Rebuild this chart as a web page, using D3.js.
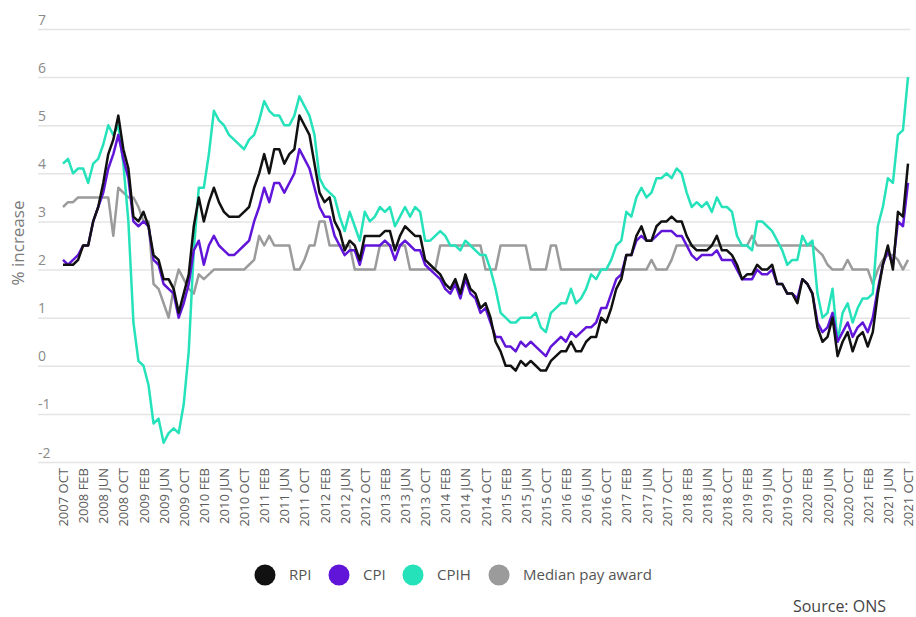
<!DOCTYPE html>
<html>
<head>
<meta charset="utf-8">
<script src="https://cdn.jsdelivr.net/npm/d3@7/dist/d3.min.js"></script>
<style>
  html, body { margin: 0; padding: 0; background: #fff; }
  svg { display: block; font-family: "Open Sans", "Noto Sans", sans-serif; }
</style>
</head>
<body>
<svg id="chart" width="916" height="617"></svg>
<script>
// ---------------- DATA ----------------
const seriesNames = ["RPI", "CPI", "CPIH", "Median pay award"];
const seriesColors = ["#111111", "#6015d9", "#25e2ba", "#9b9b9b"];

const xTickLabels = [
  "2007 OCT","2008 FEB","2008 JUN","2008 OCT","2009 FEB","2009 JUN","2009 OCT",
  "2010 FEB","2010 JUN","2010 OCT","2011 FEB","2011 JUN","2011 OCT",
  "2012 FEB","2012 JUN","2012 OCT","2013 FEB","2013 JUN","2013 OCT",
  "2014 FEB","2014 JUN","2014 OCT","2015 FEB","2015 JUN","2015 OCT",
  "2016 FEB","2016 JUN","2016 OCT","2017 FEB","2017 JUN","2017 OCT",
  "2018 FEB","2018 JUN","2018 OCT","2019 FEB","2019 JUN","2019 OCT",
  "2020 FEB","2020 JUN","2020 OCT","2021 FEB","2021 JUN","2021 OCT"
];
const yTicks = [-2, -1, 0, 1, 2, 3, 4, 5, 6, 7];

// monthly values, Oct 2007 .. Oct 2021
const rpi = [
  2.1, 2.1, 2.1,
  2.2, 2.5, 2.5, 3.0, 3.3, 3.8, 4.4, 4.7, 5.2, 4.5, 4.1, 3.1,
  3.0, 3.2, 2.9, 2.3, 2.2, 1.8, 1.8, 1.6, 1.1, 1.5, 1.9, 2.9,
  3.5, 3.0, 3.4, 3.7, 3.4, 3.2, 3.1, 3.1, 3.1, 3.2, 3.3, 3.7,
  4.0, 4.4, 4.0, 4.5, 4.5, 4.2, 4.4, 4.5, 5.2, 5.0, 4.8, 4.2,
  3.6, 3.4, 3.5, 3.0, 2.8, 2.4, 2.6, 2.5, 2.2, 2.7, 2.7, 2.7,
  2.7, 2.8, 2.8, 2.4, 2.7, 2.9, 2.8, 2.7, 2.7, 2.2, 2.1, 2.0,
  1.9, 1.7, 1.6, 1.8, 1.5, 1.9, 1.6, 1.5, 1.2, 1.3, 1.0, 0.5,
  0.3, 0.0, 0.0, -0.1, 0.1, 0.0, 0.1, 0.0, -0.1, -0.1, 0.1, 0.2,
  0.3, 0.3, 0.5, 0.3, 0.3, 0.5, 0.6, 0.6, 1.0, 0.9, 1.2, 1.6,
  1.8, 2.3, 2.3, 2.7, 2.9, 2.6, 2.6, 2.9, 3.0, 3.0, 3.1, 3.0,
  3.0, 2.7, 2.5, 2.4, 2.4, 2.4, 2.5, 2.7, 2.4, 2.4, 2.3, 2.1,
  1.8, 1.9, 1.9, 2.1, 2.0, 2.0, 2.1, 1.7, 1.7, 1.5, 1.5, 1.3,
  1.8, 1.7, 1.5, 0.8, 0.5, 0.6, 1.0, 0.2, 0.5, 0.7, 0.3, 0.6,
  0.7, 0.4, 0.7, 1.5, 2.1, 2.5, 2.0, 3.2, 3.1, 4.2
];
const cpi = [
  2.2, 2.1, 2.2,
  2.3, 2.5, 2.5, 3.0, 3.3, 3.6, 4.1, 4.4, 4.8, 4.3, 3.9, 3.0,
  2.9, 3.0, 2.9, 2.2, 2.1, 1.7, 1.6, 1.5, 1.0, 1.3, 1.7, 2.4,
  2.6, 2.1, 2.5, 2.7, 2.5, 2.4, 2.3, 2.3, 2.4, 2.5, 2.6, 3.0,
  3.3, 3.7, 3.4, 3.8, 3.8, 3.6, 3.8, 4.0, 4.5, 4.3, 4.1, 3.7,
  3.3, 3.1, 3.1, 2.7, 2.5, 2.3, 2.4, 2.4, 2.1, 2.5, 2.5, 2.5,
  2.5, 2.6, 2.5, 2.2, 2.5, 2.6, 2.5, 2.4, 2.4, 2.1, 2.0, 1.9,
  1.8, 1.6, 1.5, 1.7, 1.4, 1.8, 1.5, 1.4, 1.1, 1.2, 0.9, 0.6,
  0.6, 0.4, 0.4, 0.3, 0.5, 0.4, 0.5, 0.4, 0.3, 0.2, 0.4, 0.5,
  0.6, 0.5, 0.7, 0.6, 0.7, 0.8, 0.8, 0.9, 1.2, 1.2, 1.5, 1.8,
  1.9, 2.3, 2.3, 2.6, 2.7, 2.6, 2.6, 2.7, 2.8, 2.8, 2.8, 2.7,
  2.7, 2.5, 2.3, 2.2, 2.3, 2.3, 2.3, 2.4, 2.2, 2.2, 2.2, 2.0,
  1.8, 1.8, 1.8, 2.0, 1.9, 1.9, 2.0, 1.7, 1.7, 1.5, 1.5, 1.4,
  1.8, 1.7, 1.5, 0.9, 0.7, 0.8, 1.1, 0.5, 0.7, 0.9, 0.6, 0.8,
  0.9, 0.7, 1.0, 1.6, 2.1, 2.4, 2.1, 3.0, 2.9, 3.8
];
const cpih = [
  4.2, 4.3, 4.0,
  4.1, 4.1, 3.8, 4.2, 4.3, 4.6, 5.0, 4.8, 5.0, 4.2, 3.0, 0.9,
  0.1, 0.0, -0.4, -1.2, -1.1, -1.6, -1.4, -1.3, -1.4, -0.8, 0.3, 2.4,
  3.7, 3.7, 4.4, 5.3, 5.1, 5.0, 4.8, 4.7, 4.6, 4.5, 4.7, 4.8,
  5.1, 5.5, 5.3, 5.2, 5.2, 5.0, 5.0, 5.2, 5.6, 5.4, 5.2, 4.8,
  3.9, 3.7, 3.6, 3.5, 3.1, 2.8, 3.2, 2.9, 2.6, 3.2, 3.0, 3.1,
  3.3, 3.2, 3.3, 2.9, 3.1, 3.3, 3.1, 3.3, 3.2, 2.6, 2.6, 2.7,
  2.8, 2.7, 2.5, 2.5, 2.4, 2.6, 2.5, 2.4, 2.3, 2.3, 2.0, 1.6,
  1.1, 1.0, 0.9, 0.9, 1.0, 1.0, 1.0, 1.1, 0.8, 0.7, 1.1, 1.2,
  1.3, 1.3, 1.6, 1.3, 1.4, 1.6, 1.9, 1.8, 2.0, 2.0, 2.2, 2.5,
  2.6, 3.2, 3.1, 3.5, 3.7, 3.5, 3.6, 3.9, 3.9, 4.0, 3.9, 4.1,
  4.0, 3.6, 3.3, 3.4, 3.3, 3.4, 3.2, 3.5, 3.3, 3.3, 3.2, 2.7,
  2.5, 2.5, 2.4, 3.0, 3.0, 2.9, 2.8, 2.6, 2.4, 2.1, 2.2, 2.2,
  2.7, 2.5, 2.6, 1.5, 1.0, 1.1, 1.6, 0.5, 1.1, 1.3, 0.9, 1.2,
  1.4, 1.4, 1.5, 2.9, 3.3, 3.9, 3.8, 4.8, 4.9, 6.0
];
const medianPay = [
  3.3, 3.4, 3.4,
  3.5, 3.5, 3.5, 3.5, 3.5, 3.5, 3.5, 2.7, 3.7, 3.6, 3.5, 3.5,
  3.3, 3.0, 3.0, 1.7, 1.6, 1.3, 1.0, 1.6, 2.0, 1.8, 1.6, 1.5,
  1.9, 1.8, 1.9, 2.0, 2.0, 2.0, 2.0, 2.0, 2.0, 2.0, 2.1, 2.2,
  2.7, 2.5, 2.7, 2.5, 2.5, 2.5, 2.5, 2.0, 2.0, 2.2, 2.5, 2.5,
  3.0, 3.0, 2.5, 2.5, 2.5, 2.5, 2.5, 2.0, 2.0, 2.0, 2.0, 2.0,
  2.5, 2.5, 2.5, 2.5, 2.5, 2.5, 2.0, 2.0, 2.0, 2.0, 2.0, 2.0,
  2.5, 2.5, 2.5, 2.5, 2.5, 2.5, 2.5, 2.5, 2.5, 2.0, 2.0, 2.0,
  2.5, 2.5, 2.5, 2.5, 2.5, 2.5, 2.0, 2.0, 2.0, 2.0, 2.5, 2.5,
  2.0, 2.0, 2.0, 2.0, 2.0, 2.0, 2.0, 2.0, 2.0, 2.0, 2.0, 2.0,
  2.0, 2.0, 2.0, 2.0, 2.0, 2.0, 2.2, 2.0, 2.0, 2.0, 2.2, 2.5,
  2.5, 2.5, 2.5, 2.5, 2.5, 2.5, 2.5, 2.5, 2.5, 2.5, 2.5, 2.5,
  2.5, 2.5, 2.7, 2.5, 2.5, 2.5, 2.5, 2.5, 2.5, 2.5, 2.5, 2.5,
  2.5, 2.5, 2.5, 2.4, 2.3, 2.1, 2.0, 2.0, 2.0, 2.2, 2.0, 2.0,
  2.0, 2.0, 1.7, 2.0, 2.2, 2.3, 2.3, 2.2, 2.0, 2.2
];

// ---------------- CHART ----------------
const svg = d3.select("#chart");
svg.append("rect").attr("width", 916).attr("height", 617).attr("fill", "#fff");

const nMonths = rpi.length;
const x = d3.scaleLinear().domain([0, nMonths - 1]).range([63, 908]);
const y = d3.scaleLinear().domain([-2, 7]).range([462, 29]);

// gridlines + y labels
const gridRight = 910, gridLeft = 38;
const gy = svg.append("g")
  .attr("transform", `translate(${gridRight},0)`)
  .call(d3.axisLeft(y).tickValues(yTicks).tickSize(gridRight - gridLeft).tickFormat(d => String(d)));
gy.select(".domain").remove();
gy.selectAll(".tick line").attr("stroke", "#e4e4e4").attr("stroke-width", 1.5);
gy.selectAll(".tick text")
  .attr("x", -(gridRight - gridLeft))
  .attr("dy", -5)
  .attr("text-anchor", "start")
  .attr("fill", "#8a8a8a")
  .style("font-size", "14px")
  .style("font-family", "'Open Sans', sans-serif");

// x axis labels
const xTickIdx = xTickLabels.map((_, i) => i * 4);
const gx = svg.append("g")
  .attr("transform", "translate(0,462)")
  .call(d3.axisBottom(x).tickValues(xTickIdx).tickSize(0).tickFormat((d, i) => xTickLabels[i]));
gx.select(".domain").remove();
gx.selectAll(".tick text")
  .attr("transform", "rotate(-90)")
  .attr("x", -6)
  .attr("y", 0)
  .attr("dy", "0.35em")
  .attr("text-anchor", "end")
  .attr("fill", "#5a5a5a")
  .style("font-size", "13px")
  .style("font-family", "'Open Sans', sans-serif");

// y axis title
svg.append("text")
  .attr("transform", "translate(24,243) rotate(-90)")
  .attr("text-anchor", "middle")
  .attr("fill", "#7a7a7a")
  .style("font-size", "17px")
  .text("% increase");

// lines
const line = d3.line().x((d, i) => x(i)).y(d => y(d));
const allSeries = [rpi, cpi, cpih, medianPay];
const drawOrder = [3, 2, 1, 0];
drawOrder.forEach(k => {
  svg.append("path")
    .datum(allSeries[k])
    .attr("fill", "none")
    .attr("stroke", seriesColors[k])
    .attr("stroke-width", 2.5)
    .attr("stroke-linejoin", "round")
    .attr("d", line);
});

// legend
const legendX = [265, 339, 413, 499];
const lg = svg.append("g");
seriesNames.forEach((name, k) => {
  lg.append("circle").attr("cx", legendX[k]).attr("cy", 575).attr("r", 10.5).attr("fill", seriesColors[k]);
  lg.append("text")
    .attr("x", legendX[k] + 24)
    .attr("y", 575)
    .attr("dy", "0.35em")
    .attr("fill", "#555")
    .style("font-size", "15px")
    .text(name);
});

// source
svg.append("text")
  .attr("x", 886)
  .attr("y", 612)
  .attr("text-anchor", "end")
  .attr("fill", "#444")
  .style("font-size", "16px")
  .text("Source: ONS");
</script>
</body>
</html>
